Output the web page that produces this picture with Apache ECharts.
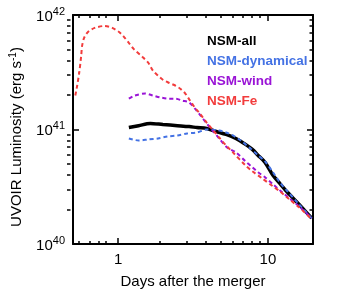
<!DOCTYPE html>
<html>
<head>
<meta charset="utf-8">
<script src="https://cdn.jsdelivr.net/npm/echarts@6/dist/echarts.min.js"></script>
<style>html,body{margin:0;padding:0;background:#fff}#c{width:350px;height:294px}</style>
</head>
<body>
<div id="c"></div>
<script>
// ---- data (days after merger, UVOIR luminosity in erg/s) ----
const allDays = [1.18,1.37,1.64,1.99,2.49,2.98,3.36,3.90,4.53,5.26,6.11,7.09,7.87,8.61,9.57,10.8,12.0,13.5,16.1,19.6];
const allLum  = [1.04e41,1.08e41,1.13e41,1.105e41,1.08e41,1.06e41,1.04e41,1.02e41,9.6e40,9.05e40,8.35e40,7.41e40,6.70e40,5.94e40,5.16e40,3.98e40,3.39e40,2.83e40,2.23e40,1.68e40];

const dynDays = [1.18,1.37,1.59,1.85,2.14,2.49,2.89,3.36,3.90,4.73,5.26,5.84,6.58,7.64,8.61,9.57,10.8,12.0,13.5,16.1,19.6];
const dynLum  = [8.35e40,8.02e40,8.18e40,8.35e40,8.69e40,8.87e40,9.23e40,9.42e40,1.0e41,9.8e40,9.42e40,8.87e40,8.02e40,6.84e40,5.94e40,5.27e40,4.23e40,3.46e40,2.89e40,2.23e40,1.68e40];

const windDays = [1.18,1.29,1.52,1.71,1.93,2.18,2.42,2.68,2.98,3.26,3.51,3.90,4.33,4.73,5.34,6.11,7.09,7.87,8.61,9.57,10.8,12.0,13.9,16.1,19.6];
const windLum  = [1.86e41,1.98e41,2.06e41,1.98e41,1.90e41,1.86e41,1.86e41,1.79e41,1.72e41,1.52e41,1.35e41,1.13e41,9.6e40,8.35e40,6.97e40,6.31e40,5.27e40,4.68e40,4.23e40,3.83e40,3.33e40,2.95e40,2.51e40,2.14e40,1.68e40];

const feDays = [0.518,0.533,0.550,0.567,0.575,0.593,0.629,0.698,0.811,0.914,1.015,1.094,1.18,1.27,1.475,1.59,1.71,1.85,1.99,2.18,2.42,2.60,2.81,3.02,3.26,3.51,3.90,4.33,4.73,5.26,5.84,7.09,7.87,9.14,10.8,12.0,13.9,16.1,19.6];
const feLum  = [1.98e41,2.41e41,3.13e41,4.40e41,5.37e41,6.31e41,7.11e41,7.71e41,8.02e41,7.71e41,7.11e41,6.44e41,5.71e41,5.06e41,4.23e41,3.83e41,3.26e41,2.95e41,2.72e41,2.56e41,2.41e41,2.27e41,2.06e41,1.79e41,1.55e41,1.38e41,1.15e41,9.8e40,8.51e40,7.26e40,6.31e40,4.86e40,4.32e40,3.75e40,3.19e40,2.89e40,2.46e40,2.10e40,1.65e40];

const seriesNames = ['NSM-all','NSM-dynamical','NSM-wind','NSM-Fe'];

// ---- axis ticks ----
const xMin = 0.5, xMax = 20;
const yMin = 1e40, yMax = 1e42;
const xMajor = [1, 10];
const xMinor = [0.6,0.7,0.8,0.9,2,3,4,5,6,7,8,9];
const yMajor = [1e40, 1e41, 1e42];
const yMinor = [2e40,3e40,4e40,5e40,6e40,7e40,8e40,9e40,2e41,3e41,4e41,5e41,6e41,7e41,8e41,9e41];

const L = Math.log10;
const pairs = (xs, ys) => xs.map((x, i) => [L(x), L(ys[i])]);

const FONT = 'Liberation Sans, Arial, Helvetica, sans-serif';
const colors = ['#000000', '#4472e4', '#9a14d6', '#f23c3c'];

function xAx(grid, pos, vals, len, main, labels) {
  return {
    gridIndex: grid, type: 'value', position: pos, min: L(xMin), max: L(xMax),
    axisLine: { show: main, onZero: false, lineStyle: { color: '#000', width: 2 } },
    axisTick: { show: true, inside: true, length: len, customValues: vals.map(L), lineStyle: { color: '#000', width: 1.5 } },
    axisLabel: labels ? {
      show: true, customValues: xMajor.map(L), margin: 8,
      formatter: v => String(Math.round(Math.pow(10, v))),
      color: '#000', fontSize: 15, fontFamily: FONT
    } : { show: false },
    splitLine: { show: false }
  };
}
function yAx(grid, pos, vals, len, main, labels) {
  return {
    gridIndex: grid, type: 'value', position: pos, min: L(yMin), max: L(yMax),
    axisLine: { show: main, onZero: false, lineStyle: { color: '#000', width: 2 } },
    axisTick: { show: true, inside: true, length: len, customValues: vals.map(L), lineStyle: { color: '#000', width: 1.5 } },
    axisLabel: labels ? {
      show: true, customValues: yMajor.map(L), margin: 8,
      formatter: v => '{b|10}{s|' + Math.round(v) + '}',
      rich: {
        b: { fontSize: 15, fontFamily: FONT, color: '#000', verticalAlign: 'bottom' },
        s: { fontSize: 11, fontFamily: FONT, color: '#000', verticalAlign: 'bottom', padding: [0, 0, 7, 0] }
      }
    } : { show: false },
    splitLine: { show: false }
  };
}

const xAxes = [xAx(0, 'bottom', xMajor, 6, true, true), xAx(0, 'top', xMajor, 6, true, false),
               xAx(1, 'bottom', xMinor, 3, false, false), xAx(1, 'top', xMinor, 3, false, false)];
xAxes[0].name = 'Days after the merger';
xAxes[0].nameLocation = 'middle';
xAxes[0].nameGap = 30;
xAxes[0].nameTextStyle = { fontSize: 15, fontFamily: FONT, color: '#000' };

const yAxes = [yAx(0, 'left', yMajor, 6, true, true), yAx(0, 'right', yMajor, 6, true, false),
               yAx(1, 'left', yMinor, 3.5, false, false), yAx(1, 'right', yMinor, 3.5, false, false)];
yAxes[0].name = 'UVOIR Luminosity (erg s{sup|-1})';
yAxes[0].nameLocation = 'middle';
yAxes[0].nameRotate = 90;
yAxes[0].nameGap = 48;
yAxes[0].nameTextStyle = {
  fontSize: 15, fontFamily: FONT, color: '#000', padding: [0, 15, 0, 0],
  rich: { sup: { fontSize: 10, fontFamily: FONT, color: '#000', verticalAlign: 'bottom', padding: [0, 0, 7, 0] } }
};

const dataSets = [pairs(allDays, allLum), pairs(dynDays, dynLum), pairs(windDays, windLum), pairs(feDays, feLum)];

const gridBox = { left: 67, right: 37, top: 15, bottom: 50, containLabel: false };

const chart = echarts.init(document.getElementById('c'), null, { renderer: 'canvas' });
chart.setOption({
  animation: false,
  backgroundColor: '#fff',
  grid: [Object.assign({}, gridBox), Object.assign({}, gridBox)],
  xAxis: xAxes,
  yAxis: yAxes,
  legend: {
    orient: 'vertical', left: 202, top: 34, padding: 0,
    icon: 'none', itemWidth: 0, itemHeight: 14, itemGap: 6,
    selectedMode: false,
    textStyle: { fontSize: 13.5, fontWeight: 'bold', fontFamily: FONT },
    data: seriesNames.map((n, i) => ({ name: n, textStyle: { color: colors[i] } }))
  },
  series: seriesNames.map((n, i) => ({
    name: n, type: 'line', xAxisIndex: 0, yAxisIndex: 0,
    data: dataSets[i], showSymbol: false, symbol: 'none', smooth: 0.3,
    color: colors[i],
    lineStyle: i === 0 ? { color: colors[i], width: 3.5 } : { color: colors[i], width: 2, type: [4, 3] },
    z: 2 + i
  }))
});
</script>
</body>
</html>
